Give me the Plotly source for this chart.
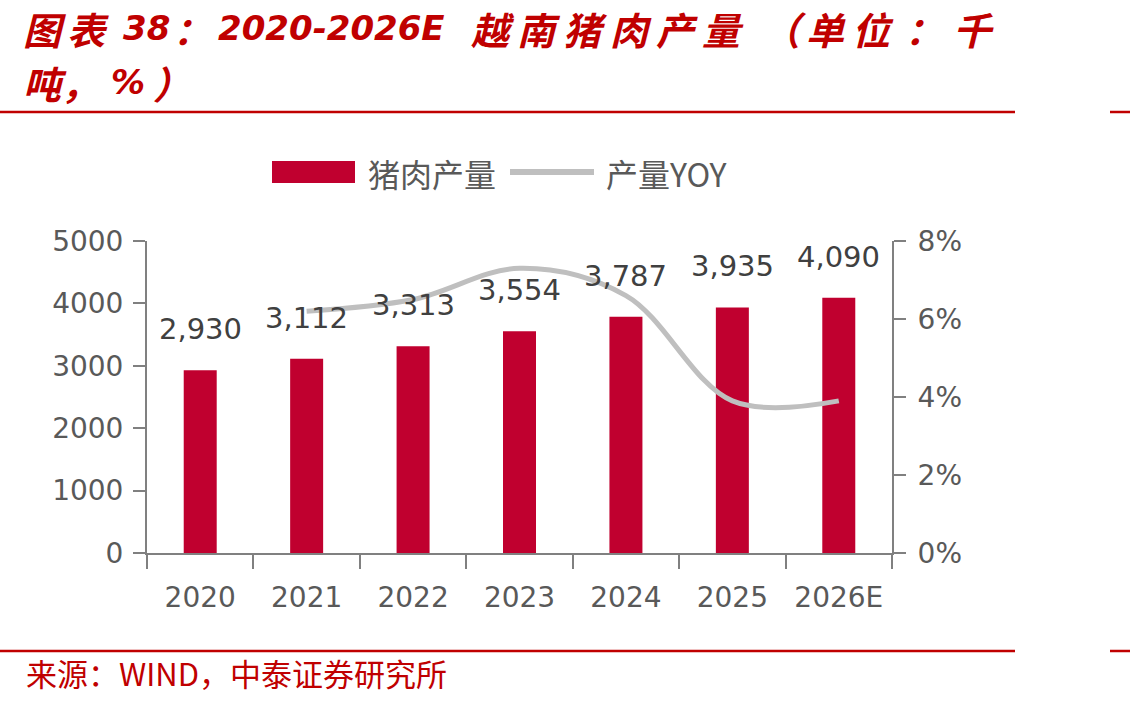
import plotly.graph_objects as go

# ---- data ----
years = ["2020", "2021", "2022", "2023", "2024", "2025", "2026E"]
pork_output = [2930, 3112, 3313, 3554, 3787, 3935, 4090]  # 千吨
yoy_years = ["2021", "2022", "2023", "2024", "2025", "2026E"]
yoy_pct = [6.2, 6.5, 7.3, 6.6, 3.9, 3.9]  # %
left_ticks = [0, 1000, 2000, 3000, 4000, 5000]
right_ticks = [0, 2, 4, 6, 8]
right_ticklabels = ["0%", "2%", "4%", "6%", "8%"]

W, H = 1130, 704
L, R, T, B = 147, 892, 241, 553

def px(x):
    return (x - L) / (R - L)

def py(y):
    return (B - y) / (B - T)

RED = "#C00000"
BAR = "#C0002F"
GRAY_LINE = "#BFBFBF"
AXIS = "#808080"
TICKTXT = "#595959"
LABEL = "#404040"
LATIN = "DejaVu Sans, Noto Sans CJK SC"
CJK = "Noto Sans CJK SC, DejaVu Sans"

fig = go.Figure()
fig.add_trace(go.Bar(x=years, y=pork_output, marker=dict(color=BAR, line=dict(width=0)),
                     width=0.31, yaxis="y", name="猪肉产量", showlegend=False))
fig.add_trace(go.Scatter(x=yoy_years, y=yoy_pct, mode="lines", yaxis="y2", name="产量YOY",
                         line=dict(color=GRAY_LINE, width=5, shape="spline", smoothing=1.0),
                         showlegend=False))

ann = []
# data labels (category index positions)
for i, v in enumerate(pork_output):
    ann.append(dict(x=i, y=v, xref="x", yref="y", text=f"{v:,}", showarrow=False,
                    yanchor="bottom", yshift=22,
                    font=dict(family=LATIN, size=29, color=LABEL)))

# title pieces (text, center x, size)
title1 = [("图", 45, 38), ("表", 88, 38), ("38", 146, 34), ("：", 192, 38),
          ("2020-2026E", 331, 34), ("越", 493, 38), ("南", 539, 38), ("猪", 585, 38),
          ("肉", 631, 38), ("产", 677, 38), ("量", 723, 38), ("（", 784, 38),
          ("单", 826, 38), ("位", 873, 38), ("：", 924, 38), ("千", 973, 38)]
title2 = [("吨", 45, 38), ("，", 80, 38), ("%", 128, 34), ("）", 172, 38)]
for line, yc in ((title1, 28), (title2, 82)):
    for txt, cx, sz in line:
        ann.append(dict(x=px(cx), y=py(yc), xref="paper", yref="paper", text=f"<b><i>{txt}</i></b>",
                        showarrow=False, xanchor="center", yanchor="middle",
                        font=dict(family=LATIN if sz == 34 else CJK, size=sz, color=RED)))

# legend texts
ann.append(dict(x=px(366), y=py(173), xref="paper", yref="paper", text="猪肉产量", showarrow=False,
                xanchor="left", yanchor="middle", font=dict(family=CJK, size=32, color=TICKTXT)))
ann.append(dict(x=px(604), y=py(173), xref="paper", yref="paper", text="产量YOY", showarrow=False,
                xanchor="left", yanchor="middle", font=dict(family=CJK, size=32, color=TICKTXT)))
# source
ann.append(dict(x=px(24), y=py(672), xref="paper", yref="paper", text="来源：WIND，中泰证券研究所",
                showarrow=False, xanchor="left", yanchor="middle",
                font=dict(family=CJK, size=31, color=RED)))

shapes = [
    dict(type="rect", xref="paper", yref="paper", x0=px(272), x1=px(355), y0=py(183), y1=py(161),
         fillcolor=BAR, line=dict(width=0)),
    dict(type="line", xref="paper", yref="paper", x0=px(510), x1=px(594), y0=py(172), y1=py(172),
         line=dict(color=GRAY_LINE, width=6)),
    dict(type="line", xref="paper", yref="paper", x0=px(0), x1=px(1015), y0=py(112), y1=py(112),
         line=dict(color=RED, width=2.5)),
    dict(type="line", xref="paper", yref="paper", x0=px(1110), x1=px(1130), y0=py(112), y1=py(112),
         line=dict(color=RED, width=2.5)),
    dict(type="line", xref="paper", yref="paper", x0=px(0), x1=px(1015), y0=py(651), y1=py(651),
         line=dict(color=RED, width=2.5)),
    dict(type="line", xref="paper", yref="paper", x0=px(1110), x1=px(1130), y0=py(651), y1=py(651),
         line=dict(color=RED, width=2.5)),
]

tickfont = dict(family=LATIN, size=28, color=TICKTXT)
fig.update_layout(
    width=W, height=H, autosize=False,
    margin=dict(l=L, r=W - R, t=T, b=H - B, pad=0),
    paper_bgcolor="white", plot_bgcolor="white",
    showlegend=False,
    xaxis=dict(type="category", categoryorder="array", categoryarray=years, range=[-0.5, 6.5],
               showline=True, linecolor=AXIS, linewidth=2, ticks="outside", tickson="boundaries",
               ticklen=14, tickwidth=2, tickcolor=AXIS, tickfont=dict(family=LATIN, size=28, color=TICKTXT),
               ticklabelstandoff=18, showgrid=False, zeroline=False),
    yaxis=dict(range=[0, 5000], tickvals=left_ticks, showline=True, linecolor=AXIS, linewidth=2,
               ticks="outside", ticklen=12, tickwidth=2, tickcolor=AXIS, tickfont=tickfont,
               ticklabelstandoff=4, showgrid=False, zeroline=False),
    yaxis2=dict(overlaying="y", side="right", range=[0, 8], tickvals=right_ticks, ticktext=right_ticklabels,
                showline=True, linecolor=AXIS, linewidth=2, ticks="outside", ticklen=12, tickwidth=2,
                tickcolor=AXIS, tickfont=tickfont, ticklabelstandoff=6, showgrid=False, zeroline=False),
    annotations=ann, shapes=shapes,
)

fig.write_html("out.html")
